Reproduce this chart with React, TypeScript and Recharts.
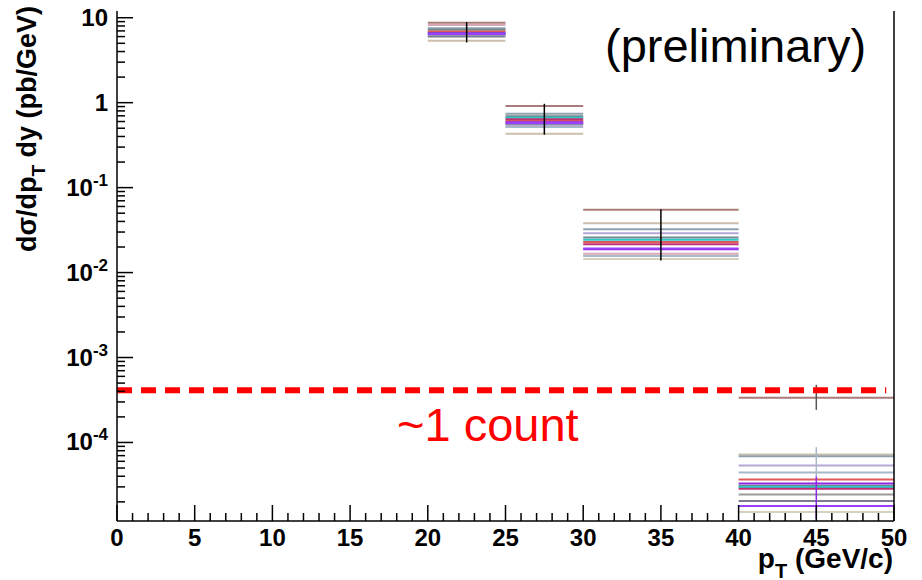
import { LineChart, Line, XAxis, YAxis } from 'recharts'

// bin edges in pT (GeV/c)
const binEdges = [20, 25, 30, 40, 50]

// cross section per bin, one array per variation (pb/GeV)
const brownVals = [8.75, 0.914, 0.0548, 3.37e-4]
const tanVals = [5.36, 0.43, 0.0382, 7.23e-5]
const slateVals = [7.5, 0.74, 0.0323, 6.9e-5]
const lavenderVals = [6.37, 0.542, 0.029, 5.36e-5]
const tealVals = [7.2, 0.69, 0.0259, 3.1e-5]
const cyanVals = [6.7, 0.665, 0.0244, 3.0e-5]
const redVals = [6.9, 0.613, 0.0229, 3.66e-5]
const magentaVals = [null, 0.638, 0.0216, 2.85e-5]
const purpleVals = [6.55, 0.588, 0.0188, 3.29e-5]
const pinkVals = [8.2, null, 0.0167, null]
const lightVals = [6.2, 0.516, 0.0157, 4.43e-5]
const darkSlateVals = [6.03, 0.565, null, 2.05e-5]
const beigeVals = [null, null, 0.0144, 1.52e-5]
const violetVals = [6.45, 0.575, 0.0192, 1.79e-5]
const grayVals = [null, null, null, 2.44e-5]

// vertical error bars at bin centres
const errX = [22.5, 27.5, 35, 45, 45, 45]
const errLow = [5.12, 0.42, 0.0139, 2.42e-4, 4.0e-5, 1.25e-5]
const errHigh = [8.9, 0.97, 0.0556, 4.77e-4, 8.8e-5, 4.0e-5]

// "~1 count" level
const countLevel = 4.13e-4
const countRange = [0, 49.5]

const xTicks = Array.from({ length: 51 }, (_, i) => i)
const yDomain = [1.19e-5, 12]

const yTicks: number[] = []
for (let e = -5; e <= 1; e++) {
  for (let m = 1; m <= 9; m++) {
    const v = m * Math.pow(10, e)
    if (v >= yDomain[0] && v <= yDomain[1]) yTicks.push(v)
  }
}

const series = [
  { color: '#a87c78', values: brownVals },
  { color: '#cdbfaa', values: tanVals },
  { color: '#8fa0ae', values: slateVals },
  { color: '#b4a8d4', values: lavenderVals },
  { color: '#6f8a8c', values: tealVals },
  { color: '#28c8c8', values: cyanVals },
  { color: '#e05a5a', values: redVals },
  { color: '#c03070', values: magentaVals },
  { color: '#8a2be2', values: purpleVals },
  { color: '#d8a8b8', values: pinkVals },
  { color: '#a8b8c8', values: lightVals },
  { color: '#7a7a90', values: darkSlateVals },
  { color: '#d6d0c0', values: beigeVals },
  { color: '#9a40ff', values: violetVals },
  { color: '#9a9a9a', values: grayVals },
]
const errColors = ['#000', '#000', '#000', '#555', '#a8b8c8', '#8a2be2']

const font = '"Liberation Sans", Arial, sans-serif'

function stepData(values: (number | null)[]) {
  const pts: { x: number; y: number | null }[] = []
  values.forEach((v, i) => {
    pts.push({ x: binEdges[i], y: v }, { x: binEdges[i + 1], y: v }, { x: binEdges[i + 1], y: null })
  })
  return pts
}

const YTick = (props: any) => {
  const { x, y, payload } = props
  const v = payload.value
  const exp = Math.round(Math.log10(v))
  const major = Math.abs(v / Math.pow(10, exp) - 1) < 1e-6
  return (
    <g>
      <line x1={x} x2={x + (major ? 16 : 8)} y1={y} y2={y} stroke="#000" strokeWidth={1.5} />
      {major && (
        <text x={x - 9} y={y + 8} textAnchor="end" fontFamily={font} fontWeight="bold" fontSize={24} fill="#000">
          {exp === 0 ? '1' : '10'}
          {exp !== 0 && exp !== 1 && (
            <tspan dy={-10} fontSize={17}>
              {exp}
            </tspan>
          )}
        </text>
      )}
    </g>
  )
}

const XTick = (props: any) => {
  const { x, y, payload } = props
  const v = payload.value
  const major = v % 5 === 0
  return (
    <g>
      <line x1={x} x2={x} y1={y} y2={y - (major ? 16 : 8)} stroke="#000" strokeWidth={1.5} />
      {major && (
        <text x={x} y={y + 25} textAnchor="middle" fontFamily={font} fontWeight="bold" fontSize={24} fill="#000">
          {v}
        </text>
      )}
    </g>
  )
}

export default function App() {
  return (
    <div style={{ position: 'absolute', left: 0, top: 0, width: 922, height: 580, background: '#fff' }}>
      <LineChart width={922} height={580} margin={{ top: 11, right: 0, bottom: 0, left: 0 }}>
        <XAxis
          dataKey="x"
          type="number"
          domain={[0, 50]}
          ticks={xTicks}
          interval={0}
          height={59}
          tickSize={0}
          tickMargin={0}
          tick={<XTick />}
          axisLine={{ stroke: '#000', strokeWidth: 1.5 }}
          allowDataOverflow
        />
        <XAxis xAxisId="top" orientation="top" type="number" domain={[0, 50]} height={0} tick={false} tickLine={false} axisLine={{ stroke: '#000', strokeWidth: 1.5 }} />
        <YAxis
          type="number"
          scale="log"
          domain={yDomain}
          ticks={yTicks}
          interval={0}
          width={117}
          tickSize={0}
          tickMargin={0}
          tick={<YTick />}
          axisLine={{ stroke: '#000', strokeWidth: 1.5 }}
          allowDataOverflow
        />
        <YAxis yAxisId="right" orientation="right" type="number" domain={[0, 1]} width={28} tick={false} tickLine={false} axisLine={{ stroke: '#000', strokeWidth: 1.5 }} />
        {series.map((s, i) => (
          <Line
            key={`s${i}`}
            data={stepData(s.values)}
            dataKey="y"
            type="linear"
            stroke={s.color}
            strokeWidth={2}
            dot={false}
            activeDot={false}
            isAnimationActive={false}
          />
        ))}
        {errX.map((x, i) => (
          <Line
            key={`e${i}`}
            data={[{ x, y: errLow[i] }, { x, y: errHigh[i] }]}
            dataKey="y"
            type="linear"
            stroke={errColors[i]}
            strokeWidth={1.5}
            dot={false}
            activeDot={false}
            isAnimationActive={false}
          />
        ))}
        <Line
          data={countRange.map((x) => ({ x, y: countLevel }))}
          dataKey="y"
          type="linear"
          stroke="#ff0000"
          strokeWidth={6}
          strokeDasharray="15 9"
          dot={false}
          activeDot={false}
          isAnimationActive={false}
        />
      </LineChart>
      <svg width={922} height={580} style={{ position: 'absolute', left: 0, top: 0, pointerEvents: 'none' }}>
        <text x={605} y={62} fontFamily={font} fontSize={47} fill="#000">
          (preliminary)
        </text>
        <text x={397} y={441} fontFamily={font} fontSize={47} fill="#ff0000">
          ~1 count
        </text>
        <text x={893} y={568} textAnchor="end" fontFamily={font} fontWeight="bold" fontSize={28} fill="#000">
          p<tspan dy={10} fontSize={20}>T</tspan>
          <tspan dy={-10}> (GeV/c)</tspan>
        </text>
        <text transform="translate(36,129) rotate(-90)" textAnchor="middle" fontFamily={font} fontWeight="bold" fontSize={27} fill="#000">
          dσ/dp<tspan dy={9} fontSize={19}>T</tspan>
          <tspan dy={-9}> dy (pb/GeV)</tspan>
        </text>
      </svg>
    </div>
  )
}
